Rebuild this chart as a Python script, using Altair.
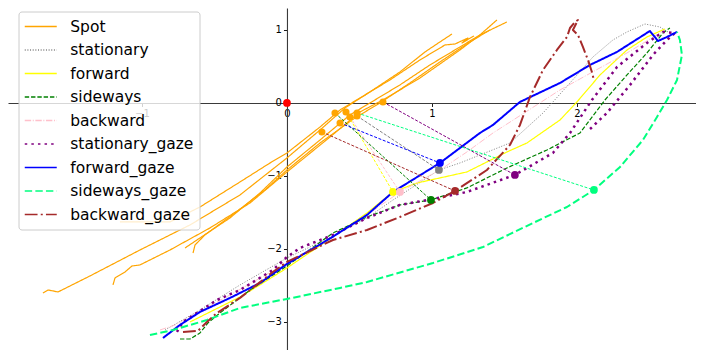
import altair as alt
import pandas as pd

# ---------------- data ----------------
series_names = ["Spot", "stationary", "forward", "sideways", "backward",
                "stationary_gaze", "forward_gaze", "sideways_gaze", "backward_gaze"]
series_colors = ["#FFA500", "#808080", "#FFFF00", "#008000", "#FFC0CB",
                 "#800080", "#0000FF", "#00FF7F", "#A52A2A"]
series_dashes = [[1, 0], [1, 1.65], [1, 0], [4.4, 1.9], [6.4, 1.6, 1, 1.6],
                 [2.5, 4.1], [1, 0], [7.4, 3.2], [12.8, 3.2, 2, 3.2]]
series_widths = [1.2, 1.0, 1.2, 1.2, 1.0, 2.5, 2.0, 2.0, 2.0]

x_ticks = [-1, 0, 1, 2]
y_ticks = [-3, -2, -1, 0, 1]

# Spot trajectories (orange)
spot1_x = [-1.683, -1.648, -1.614, -1.579, -1.359, -1.014, -0.669, -0.324, 0.0, 0.228, 0.400, 0.572, 0.779, 0.952, 1.055, 1.138]
spot1_y = [-2.603, -2.562, -2.575, -2.589, -2.370, -2.014, -1.671, -1.260, -0.753, -0.370, -0.068, 0.151, 0.425, 0.699, 0.836, 0.945]
spot2_x = [-1.200, -1.186, -1.117, -1.069, -1.014, -0.807, -0.531, -0.255, 0.0, 0.297, 0.503, 0.662, 0.917, 1.193, 1.331, 1.448]
spot2_y = [-2.493, -2.397, -2.315, -2.233, -2.219, -2.014, -1.712, -1.370, -0.945, -0.466, -0.123, 0.041, 0.342, 0.726, 0.932, 1.137]
spot3_x = [-0.703, -0.600, -0.393, -0.186, 0.0, 0.228, 0.434, 0.572, 0.779, 0.986, 1.193, 1.331, 1.517]
spot3_y = [-1.986, -1.849, -1.575, -1.233, -0.877, -0.507, -0.164, 0.0, 0.247, 0.521, 0.767, 0.932, 1.110]
spot4_x = [-0.648, -0.634, -0.566, -0.359, -0.152, 0.0, 0.228, 0.469, 0.641, 0.848, 1.055, 1.262, 1.400]
spot4_y = [-2.055, -1.945, -1.808, -1.507, -1.192, -0.918, -0.548, -0.205, 0.0, 0.274, 0.562, 0.836, 1.000]
spot5_x = [-1.152, -0.807, -0.600, -0.324, -0.117, 0.0, 0.228, 0.366, 0.503, 0.710, 0.917, 1.090, 1.159, 1.248, 1.207, 1.290]
spot5_y = [-1.630, -1.630, -1.425, -1.082, -0.822, -0.685, -0.329, -0.096, 0.068, 0.315, 0.589, 0.795, 0.808, 0.890, 0.822, 0.918]

stationary_x = [-0.841, -0.600, -0.324, 0.0, 0.317, 0.552, 0.731, 0.869, 1.048, 1.193, 1.538, 1.766, 1.952, 2.110, 2.248, 2.345, 2.469, 2.572, 2.628]
stationary_y = [-3.110, -2.836, -2.493, -2.123, -1.822, -1.575, -1.329, -1.151, -0.918, -0.822, -0.548, -0.137, 0.274, 0.630, 0.863, 0.973, 1.082, 1.041, 0.973]

forward_x = [-0.669, -0.324, -0.166, 0.0, 0.366, 0.552, 0.731, 0.897, 1.241, 1.517, 1.655, 1.883, 2.000, 2.159, 2.345, 2.483, 2.607]
forward_y = [-3.000, -2.658, -2.466, -2.260, -1.767, -1.507, -1.219, -1.096, -0.945, -0.671, -0.548, -0.233, 0.014, 0.384, 0.726, 0.904, 1.014]

sideways_x = [-0.738, -0.669, -0.600, -0.545, -0.462, -0.255, 0.0, 0.317, 0.552, 0.779, 0.993, 1.241, 1.517, 1.793, 2.021, 2.193, 2.345, 2.483, 2.593, 2.641]
sideways_y = [-3.233, -3.233, -3.151, -3.014, -2.877, -2.562, -2.233, -1.781, -1.562, -1.397, -1.329, -1.164, -0.890, -0.644, -0.411, 0.041, 0.384, 0.685, 0.959, 1.027]

backward_x = [-0.876, -0.772, -0.393, 0.0, 0.366, 0.552, 0.779, 1.055, 1.241, 1.421, 1.883, 2.345, 2.607]
backward_y = [-3.110, -3.041, -2.630, -2.192, -1.767, -1.534, -1.219, -0.918, -0.671, -0.411, 0.178, 0.685, 1.000]

stationary_gaze_x = [-0.759, -0.717, -0.483, -0.324, -0.097, 0.0, 0.090, 0.317, 0.552, 0.779, 1.007, 1.241, 1.572, 1.834, 1.952, 2.103, 2.276, 2.483, 2.593, 2.676, 2.621, 2.524, 2.366, 2.207, 2.083]
stationary_gaze_y = [-3.137, -3.000, -2.699, -2.562, -2.288, -2.110, -1.986, -1.808, -1.575, -1.397, -1.315, -1.219, -0.986, -0.685, -0.411, 0.041, 0.493, 0.822, 0.973, 0.959, 0.863, 0.658, 0.247, -0.137, -0.370]

forward_gaze_x = [-0.855, -0.738, -0.600, -0.393, -0.186, 0.0, 0.303, 0.552, 0.731, 1.055, 1.331, 1.421, 1.607, 1.883, 2.090, 2.276, 2.503, 2.559, 2.621, 2.690]
forward_gaze_y = [-3.219, -3.041, -2.863, -2.671, -2.466, -2.205, -1.849, -1.534, -1.219, -0.822, -0.411, -0.301, 0.014, 0.274, 0.521, 0.699, 0.986, 0.849, 0.904, 0.973]

sideways_gaze_x = [-0.945, -0.786, -0.552, -0.324, 0.0, 0.366, 0.552, 1.007, 1.352, 1.697, 1.931, 2.117, 2.297, 2.455, 2.552, 2.621, 2.690, 2.724, 2.710, 2.690]
sideways_gaze_y = [-3.178, -3.110, -2.973, -2.808, -2.685, -2.534, -2.452, -2.192, -1.973, -1.644, -1.425, -1.192, -0.877, -0.507, -0.192, 0.041, 0.315, 0.658, 0.863, 0.973]

backward_gaze_x = [-0.717, -0.614, -0.552, -0.483, -0.324, -0.097, 0.0, 0.317, 0.552, 0.779, 1.007, 1.159, 1.379, 1.538, 1.607, 1.676, 1.766, 1.862, 1.931, 1.952, 1.986, 2.007, 1.972, 2.007, 2.041, 2.076, 2.103, 2.117]
backward_gaze_y = [-3.137, -3.123, -3.000, -2.877, -2.671, -2.315, -2.178, -1.877, -1.740, -1.562, -1.370, -1.205, -0.918, -0.575, -0.301, 0.082, 0.452, 0.726, 0.904, 1.027, 1.110, 1.137, 1.000, 0.932, 0.767, 0.589, 0.425, 0.315]

# spot point (orange dot) and matched point on each trajectory
traj_names = ["stationary", "forward", "sideways", "backward",
              "stationary_gaze", "forward_gaze", "sideways_gaze", "backward_gaze"]
spot_pt_x = [0.483, 0.407, 0.331, 0.434, 0.662, 0.366, 0.483, 0.241]
spot_pt_y = [-0.178, -0.123, -0.137, -0.192, 0.014, -0.274, -0.137, -0.397]
match_pt_x = [1.048, 0.731, 0.993, 0.779, 1.572, 1.055, 2.117, 1.159]
match_pt_y = [-0.918, -1.219, -1.329, -1.219, -0.986, -0.822, -1.192, -1.205]

origin_x = [0.0]
origin_y = [0.0]

# ---------------- tables ----------------
rows = []
spots = [(spot1_x, spot1_y), (spot2_x, spot2_y), (spot3_x, spot3_y), (spot4_x, spot4_y), (spot5_x, spot5_y)]
for k, (xs, ys) in enumerate(spots):
    for i, (a, b) in enumerate(zip(xs, ys)):
        rows.append({"series": "Spot", "line": f"Spot{k}", "i": i, "x": a, "y": b})
trajs = {
    "stationary": (stationary_x, stationary_y),
    "forward": (forward_x, forward_y),
    "sideways": (sideways_x, sideways_y),
    "backward": (backward_x, backward_y),
    "stationary_gaze": (stationary_gaze_x, stationary_gaze_y),
    "forward_gaze": (forward_gaze_x, forward_gaze_y),
    "sideways_gaze": (sideways_gaze_x, sideways_gaze_y),
    "backward_gaze": (backward_gaze_x, backward_gaze_y),
}
for name, (xs, ys) in trajs.items():
    for i, (a, b) in enumerate(zip(xs, ys)):
        rows.append({"series": name, "line": name, "i": i, "x": a, "y": b})
df_lines = pd.DataFrame(rows)

df_conn = pd.DataFrame({"series": traj_names, "x": spot_pt_x, "y": spot_pt_y,
                        "x2": match_pt_x, "y2": match_pt_y})
df_origin = pd.DataFrame({"x": origin_x, "y": origin_y})

# ---------------- layout ----------------
W, H = 688, 342
XMIN, XMAX = -1.924, 2.821
YMIN, YMAX = -3.384, 1.301
y0_px = H * (YMAX - 0) / (YMAX - YMIN)
x0_px = W * (0 - XMIN) / (XMAX - XMIN)

xscale = alt.Scale(domain=[XMIN, XMAX], nice=False, zero=False)
yscale = alt.Scale(domain=[YMIN, YMAX], nice=False, zero=False)

axis_common = dict(grid=False, domainColor="#3a3a3a", domainWidth=1.1,
                   tickColor="#000000", tickSize=3.5, tickWidth=0.9,
                   labelFont="DejaVu Sans", labelFontSize=10, labelColor="#000000",
                   labelOverlap=False, labelFlush=False, labelBound=False,
                   labelPadding=2, title=None)
xaxis = alt.Axis(values=x_ticks, offset=y0_px - H, **axis_common)
yaxis = alt.Axis(values=y_ticks, offset=-x0_px, **axis_common)

X = lambda f: alt.X(f, scale=xscale, axis=xaxis, title=None)
Y = lambda f: alt.Y(f, scale=yscale, axis=yaxis, title=None)

leg = alt.Legend(symbolType="M-2,0H2", symbolSize=256, title=None)

color_enc = alt.Color("series:N", scale=alt.Scale(domain=series_names, range=series_colors),
                      legend=leg, title=None)
dash_enc = alt.StrokeDash("series:N", scale=alt.Scale(domain=series_names, range=series_dashes),
                          legend=leg, title=None)
color_noleg = alt.Color("series:N", scale=alt.Scale(domain=series_names, range=series_colors),
                        legend=None)

layers = []
for idx, name in enumerate(series_names):
    layers.append(
        alt.Chart(df_lines).transform_filter(alt.datum.series == name)
        .mark_line(strokeWidth=series_widths[idx], strokeCap="butt", strokeJoin="round")
        .encode(
            x=X("x:Q"),
            y=Y("y:Q"),
            color=color_enc,
            strokeDash=dash_enc,
            detail="line:N",
            order="i:Q",
        )
    )

conn = alt.Chart(df_conn).mark_rule(strokeWidth=1, strokeDash=[3, 1.6]).encode(
    x=X("x:Q"), y=Y("y:Q"),
    x2="x2:Q", y2="y2:Q",
    color=color_noleg,
)
spot_dots = alt.Chart(df_conn).mark_circle(size=50, opacity=1, color="#FFA500").encode(
    x=X("x:Q"), y=Y("y:Q"),
)
match_dots = alt.Chart(df_conn).mark_circle(size=60, opacity=1).encode(
    x=X("x2:Q"), y=Y("y2:Q"),
    color=color_noleg,
)
origin_dot = alt.Chart(df_origin).mark_circle(size=60, opacity=1, color="#FF0000").encode(
    x=X("x:Q"), y=Y("y:Q"),
)

chart = (
    alt.layer(*layers, conn, spot_dots, match_dots, origin_dot)
    .properties(width=W, height=H, autosize=alt.AutoSizeParams(type="none"), padding=0)
    .configure_view(stroke=None)
    .configure_legend(
        orient="none", legendX=10.5, legendY=3.5,
        fillColor="rgba(255,255,255,0.8)", strokeColor="#cccccc", cornerRadius=3,
        padding=6, rowPadding=5.5, labelFont="DejaVu Sans", labelFontSize=15.5,
        labelColor="#000000", labelLimit=300, symbolStrokeWidth=1.5,
        symbolOffset=7.25, labelOffset=20.5,
    )
)
chart.save("out.html", embed_options={"renderer": "svg", "actions": False})
